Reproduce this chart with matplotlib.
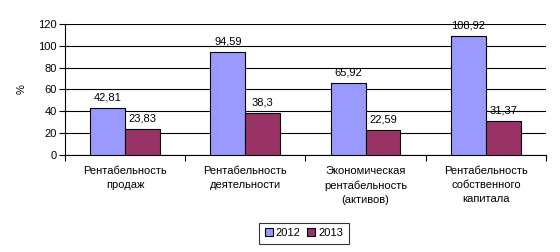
import numpy as np
import matplotlib
matplotlib.use('Agg')
import matplotlib.pyplot as plt

plt.rcParams['font.family'] = ['Liberation Sans', 'DejaVu Sans']
plt.rcParams['font.size'] = 8

# data
categories = ['Рентабельность\nпродаж', 'Рентабельность\nдеятельности',
              'Экономическая\nрентабельность\n(активов)', 'Рентабельность\nсобственного\nкапитала']
vals_2012 = [42.81, 94.59, 65.92, 108.92]
vals_2013 = [23.83, 38.3, 22.59, 31.37]
labels_2012 = ['42,81', '94,59', '65,92', '108,92']
labels_2013 = ['23,83', '38,3', '22,59', '31,37']

fig = plt.figure(figsize=(5.6, 2.52), dpi=100)
ax = fig.add_axes([0.116, 0.385, 0.859, 0.52])

x = np.arange(len(categories))
w = 0.29
b1 = ax.bar(x - w/2, vals_2012, w, color='#9999FF', edgecolor='black', linewidth=0.8, label='2012', zorder=3)
b2 = ax.bar(x + w/2, vals_2013, w, color='#993366', edgecolor='black', linewidth=0.8, label='2013', zorder=3)

for rect, lab in zip(b1, labels_2012):
    ax.text(rect.get_x() + rect.get_width()/2, rect.get_height() + 5, lab, ha='center', va='bottom')
for rect, lab in zip(b2, labels_2013):
    ax.text(rect.get_x() + rect.get_width()/2, rect.get_height() + 5, lab, ha='center', va='bottom')

ax.set_xlim(-0.5, len(categories) - 0.5)
ax.set_ylim(0, 120)
ax.set_yticks(range(0, 121, 20))
ax.yaxis.grid(True, color='black', linewidth=0.8, zorder=0)
ax.set_axisbelow(True)

# ticks between groups, labels at centers
ax.set_xticks(np.arange(-0.5, len(categories), 1.0))
ax.set_xticklabels([])
ax.set_xticks(x, minor=True)
ax.set_xticklabels(categories, minor=True, linespacing=1.5)
ax.tick_params(axis='x', which='minor', length=0, pad=8)
ax.tick_params(axis='x', which='major', length=4, direction='out')
ax.tick_params(axis='y', length=4, direction='out', pad=2)

for s in ['top', 'right']:
    ax.spines[s].set_visible(False)
ax.set_ylabel('%', labelpad=8)

leg = fig.legend(handles=[b1, b2], loc='center', bbox_to_anchor=(0.543, 0.075), ncol=2,
                 frameon=True, fancybox=False, edgecolor='black', handlelength=0.7,
                 handleheight=0.7, handletextpad=0.3, columnspacing=0.6, borderpad=0.5)
leg.get_frame().set_linewidth(0.8)

fig.savefig('out.png', dpi=100)
